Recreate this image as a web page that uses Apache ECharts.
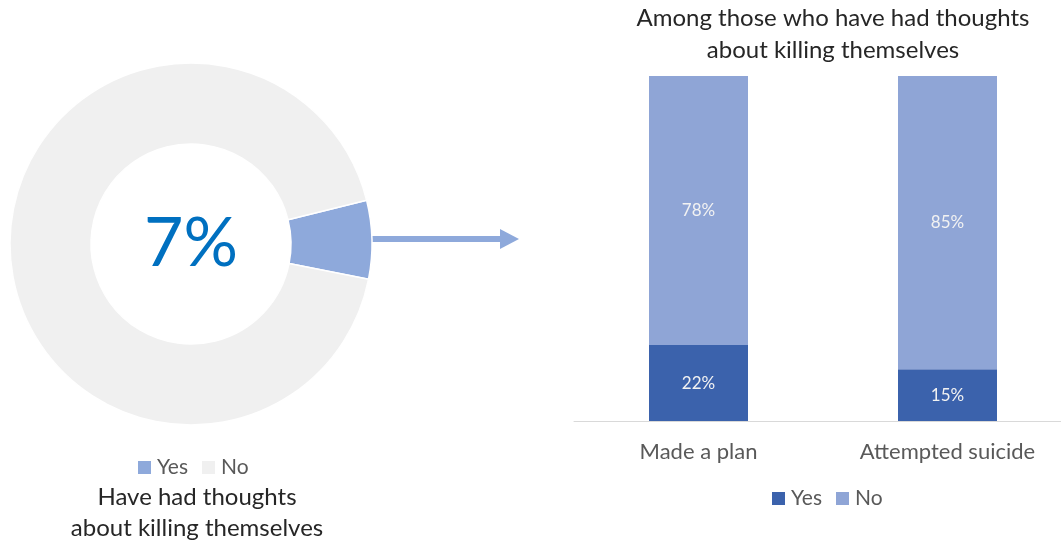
<!DOCTYPE html>
<html><head><meta charset="utf-8">
<script src="https://cdn.jsdelivr.net/npm/echarts@6/dist/echarts.min.js"></script>
<style>html,body{margin:0;padding:0;background:#fff}#c{width:1061px;height:546px}</style>
</head><body><div id="c"></div>
<script>
// ---- data ----
const pieNames = ['Yes', 'No'];
const pieValues = [7, 93];
const barCategories = ['Made a plan', 'Attempted suicide'];
const seriesNames = ['Yes', 'No'];
const barYes = [22, 15];
const barNo = [78, 85];
const leftTitleLines = ['Have had thoughts', 'about killing themselves'];
const rightTitleLines = ['Among those who have had thoughts', 'about killing themselves'];

// ---- styles ----
const FONT = 'Lato';
const C_PIE_YES = '#8EA9DB';
const C_PIE_NO = '#F0F0F0';
const C_BAR_YES = '#3B62AC';
const C_BAR_NO = '#8FA5D6';
const C_TEXT = '#262626';
const C_AXIS = '#595959';

const chart = echarts.init(document.getElementById('c'), null, {renderer: 'canvas'});

const option = {
  animation: false,
  backgroundColor: '#fff',
  textStyle: {fontFamily: FONT},
  grid: {left: 574, width: 498, top: 76, bottom: 125, containLabel: false, outerBoundsMode: 'none'},
  xAxis: {
    type: 'category', data: barCategories,
    axisLine: {lineStyle: {color: '#D9D9D9', width: 1}},
    axisTick: {show: false},
    axisLabel: {fontFamily: FONT, fontSize: 22, color: C_AXIS, margin: 20}
  },
  yAxis: {type: 'value', min: 0, max: 100, show: false, splitLine: {show: false}},
  legend: [
    {
      left: 133, top: 452, itemWidth: 13, itemHeight: 13, itemGap: 14, icon: 'rect',
      textStyle: {fontFamily: FONT, fontSize: 21, color: C_AXIS, padding: [0, 0, 0, 1]},
      data: [
        {name: pieNames[0], itemStyle: {color: C_PIE_YES}},
        {name: pieNames[1], itemStyle: {color: C_PIE_NO}}
      ]
    },
    {
      left: 767, top: 483, itemWidth: 13, itemHeight: 13, itemGap: 14, icon: 'rect',
      textStyle: {fontFamily: FONT, fontSize: 21, color: C_AXIS, padding: [0, 0, 0, 1]},
      data: [
        {name: seriesNames[0], itemStyle: {color: C_BAR_YES}},
        {name: seriesNames[1], itemStyle: {color: C_BAR_NO}}
      ]
    }
  ],
  series: [
    {
      type: 'pie',
      center: [191, 244],
      radius: [100, 181],
      startAngle: 14,
      clockwise: true,
      silent: true,
      label: {show: false},
      labelLine: {show: false},
      itemStyle: {borderColor: '#fff', borderWidth: 1.5},
      data: [
        {
          name: pieNames[0], value: pieValues[0],
          itemStyle: {color: C_PIE_YES},
          label: {show: true, position: 'center', formatter: '{c}%', fontFamily: FONT, fontSize: 68, color: '#0070C0', padding: [0, 0, 9, 0]}
        },
        {name: pieNames[1], value: pieValues[1], itemStyle: {color: C_PIE_NO}}
      ]
    },
    {
      type: 'bar', name: seriesNames[0], stack: 's', data: barYes, barWidth: 99,
      itemStyle: {color: C_BAR_YES},
      label: {show: true, position: 'inside', formatter: '{c}%', color: '#F2F2F2', fontFamily: FONT, fontSize: 17}
    },
    {
      type: 'bar', name: seriesNames[1], stack: 's', data: barNo, barWidth: 99,
      itemStyle: {color: C_BAR_NO},
      label: {show: true, position: 'inside', formatter: '{c}%', color: '#F2F2F2', fontFamily: FONT, fontSize: 17}
    }
  ],
  graphic: [
    {type: 'line', shape: {x1: 371, y1: 239, x2: 502, y2: 239}, style: {stroke: C_PIE_YES, lineWidth: 6}, silent: true},
    {type: 'polygon', shape: {points: [[500, 229], [519, 239], [500, 249]]}, style: {fill: C_PIE_YES}, silent: true},
    {type: 'text', x: 197, y: 497, style: {text: leftTitleLines[0], font: '24px ' + FONT, fill: C_TEXT, textAlign: 'center', textVerticalAlign: 'middle'}},
    {type: 'text', x: 197, y: 528, style: {text: leftTitleLines[1], font: '24px ' + FONT, fill: C_TEXT, textAlign: 'center', textVerticalAlign: 'middle'}},
    {type: 'text', x: 833, y: 18, style: {text: rightTitleLines[0], font: '24px ' + FONT, fill: C_TEXT, textAlign: 'center', textVerticalAlign: 'middle'}},
    {type: 'text', x: 833, y: 50, style: {text: rightTitleLines[1], font: '24px ' + FONT, fill: C_TEXT, textAlign: 'center', textVerticalAlign: 'middle'}}
  ]
};
chart.setOption(option);
</script>
</body></html>
